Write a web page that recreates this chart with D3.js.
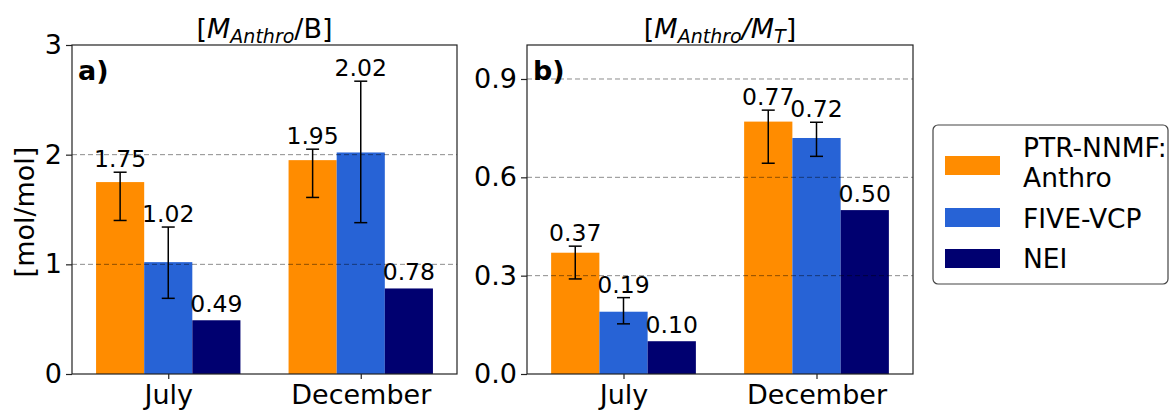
<!DOCTYPE html>
<html>
<head>
<meta charset="utf-8">
<script src="https://cdn.jsdelivr.net/npm/d3@7"></script>
<style>
  html, body { margin: 0; padding: 0; background: #fff; }
  svg { display: block; font-family: "DejaVu Sans", sans-serif; }
</style>
</head>
<body>
<svg id="chart" width="1170" height="412"></svg>
<script>
// ---- data ----
const categories = ["July", "December"];
const seriesNames = ["PTR-NNMF:\nAnthro", "FIVE-VCP", "NEI"];
const seriesColors = ["#FF8C00", "#2763D6", "#000070"];

// panel a: [M_Anthro/B]
const aPTR  = [1.75, 1.95];
const aFIVE = [1.02, 2.02];
const aNEI  = [0.49, 0.78];
const aPTRerr  = [[1.40, 1.84], [1.61, 2.05]];
const aFIVEerr = [[0.69, 1.34], [1.38, 2.67]];
const aTicks = [0, 1, 2, 3];
const aTickLabels = ["0", "1", "2", "3"];

// panel b: [M_Anthro/M_T]
const bPTR  = [0.37, 0.77];
const bFIVE = [0.19, 0.72];
const bNEI  = [0.10, 0.50];
const bPTRerr  = [[0.29, 0.39], [0.643, 0.805]];
const bFIVEerr = [[0.153, 0.233], [0.664, 0.768]];
const bTicks = [0.0, 0.3, 0.6, 0.9];
const bTickLabels = ["0.0", "0.3", "0.6", "0.9"];

const FS = 27;      // axis / title font size
const VFS = 23.5;   // value label font size
const SFS = 19;     // subscript font size

const svg = d3.select("#chart");

function panel(opts) {
  const { left, right, top, bottom, ymax, values, errs, valueLabels, ticks, tickLabels, letter, titleParts } = opts;
  const g = svg.append("g");
  const x = d3.scaleLinear().domain([-0.5, 1.5]).range([left, right]);
  const y = d3.scaleLinear().domain([0, ymax]).range([bottom, top]);
  const bw = 0.25;

  // bars
  values.forEach((vals, j) => {
    g.selectAll(null).data(vals).enter().append("rect")
      .attr("x", (d, i) => x(i + (j - 1) * bw - bw / 2))
      .attr("width", x(bw) - x(0))
      .attr("y", d => y(d))
      .attr("height", d => y(0) - y(d))
      .attr("fill", seriesColors[j]);
  });

  // grid (on top of bars)
  g.selectAll(null).data(ticks.filter(t => t > 0 && y(t) > top + 1)).enter().append("line")
    .attr("x1", left).attr("x2", right)
    .attr("y1", d => y(d)).attr("y2", d => y(d))
    .attr("stroke", "#000").attr("stroke-opacity", 0.45)
    .attr("stroke-width", 1).attr("stroke-dasharray", "5,3");

  // error bars
  errs.forEach((e, j) => {
    if (!e) return;
    e.forEach((lohi, i) => {
      const cx = x(i + (j - 1) * bw);
      const eg = g.append("g").attr("stroke", "#000").attr("stroke-width", 1.5);
      eg.append("line").attr("x1", cx).attr("x2", cx).attr("y1", y(lohi[0])).attr("y2", y(lohi[1]));
      eg.append("line").attr("x1", cx - 6.5).attr("x2", cx + 6.5).attr("y1", y(lohi[0])).attr("y2", y(lohi[0]));
      eg.append("line").attr("x1", cx - 6.5).attr("x2", cx + 6.5).attr("y1", y(lohi[1])).attr("y2", y(lohi[1]));
    });
  });

  // value labels
  values.forEach((vals, j) => {
    vals.forEach((v, i) => {
      const cx = x(i + (j - 1) * bw);
      const e = errs[j] ? errs[j][i] : null;
      const yb = e ? y(e[1]) - 5 : y(v) - 8;
      g.append("text").attr("x", cx).attr("y", yb)
        .attr("text-anchor", "middle").attr("font-size", VFS).attr("fill", "#000")
        .text(valueLabels[j][i]);
    });
  });

  // axes
  const yAxis = d3.axisLeft(y).tickValues(ticks).tickFormat((d, i) => tickLabels[i]).tickSize(6).tickPadding(4);
  const ya = g.append("g").attr("transform", `translate(${left},0)`).call(yAxis);
  ya.select(".domain").remove();
  ya.selectAll("text").attr("font-size", FS).attr("font-family", "DejaVu Sans").attr("fill", "#000");
  ya.selectAll("line").attr("stroke", "#222").attr("stroke-width", 1.2);

  const xAxis = d3.axisBottom(x).tickValues([0, 1]).tickFormat((d, i) => categories[i]).tickSize(5).tickPadding(6);
  const xa = g.append("g").attr("transform", `translate(0,${bottom})`).call(xAxis);
  xa.select(".domain").remove();
  xa.selectAll("text").attr("font-size", FS).attr("font-family", "DejaVu Sans").attr("fill", "#000");
  xa.selectAll("line").attr("stroke", "#222").attr("stroke-width", 1.2);

  // frame
  g.append("rect").attr("x", left).attr("y", top).attr("width", right - left).attr("height", bottom - top)
    .attr("fill", "none").attr("stroke", "#222").attr("stroke-width", 1.2);

  // panel letter
  g.append("text").attr("x", left + 6).attr("y", top + 35)
    .attr("font-size", 27).attr("font-weight", "bold").text(letter);

  // title
  const t = g.append("text").attr("x", (left + right) / 2).attr("y", 38)
    .attr("text-anchor", "middle").attr("font-size", FS);
  titleParts.forEach(p => {
    const ts = t.append("tspan").text(p.t).attr("font-size", p.sub ? SFS : FS);
    if (p.it) ts.attr("font-style", "italic");
    if (p.dy) ts.attr("dy", p.dy);
  });
}

panel({
  left: 72, right: 457, top: 45, bottom: 374, ymax: 3,
  values: [aPTR, aFIVE, aNEI], errs: [aPTRerr, aFIVEerr, null],
  valueLabels: [aPTR.map(d => d.toFixed(2)), aFIVE.map(d => d.toFixed(2)), aNEI.map(d => d.toFixed(2))],
  ticks: aTicks, tickLabels: aTickLabels, letter: "a)",
  titleParts: [{t: "["}, {t: "M", it: true}, {t: "Anthro", it: true, sub: true, dy: 5}, {t: "/B]", dy: -5}]
});
panel({
  left: 527, right: 913, top: 45, bottom: 374, ymax: 1.0037,
  values: [bPTR, bFIVE, bNEI], errs: [bPTRerr, bFIVEerr, null],
  valueLabels: [bPTR.map(d => d.toFixed(2)), bFIVE.map(d => d.toFixed(2)), bNEI.map(d => d.toFixed(2))],
  ticks: bTicks, tickLabels: bTickLabels, letter: "b)",
  titleParts: [{t: "["}, {t: "M", it: true}, {t: "Anthro", it: true, sub: true, dy: 5}, {t: "/", it: true, dy: -5}, {t: "M", it: true}, {t: "T", it: true, sub: true, dy: 5}, {t: "]", dy: -5}]
});

// y label
svg.append("text").attr("transform", "translate(34,212) rotate(-90)")
  .attr("text-anchor", "middle").attr("font-size", FS).text("[mol/mol]");

// legend
const lg = svg.append("g");
lg.append("rect").attr("x", 933).attr("y", 125).attr("width", 235).attr("height", 159)
  .attr("rx", 5).attr("fill", "#fff").attr("stroke", "#444").attr("stroke-width", 1.2);
const legendRows = [
  { patchY: 156, lines: [157, 187] },
  { patchY: 208, lines: [228] },
  { patchY: 249, lines: [268] }
];
seriesNames.forEach((name, i) => {
  const r = legendRows[i];
  lg.append("rect").attr("x", 945).attr("y", r.patchY).attr("width", 55).attr("height", 19)
    .attr("fill", seriesColors[i]);
  name.split("\n").forEach((ln, k) => {
    lg.append("text").attr("x", 1023).attr("y", r.lines[k]).attr("font-size", 26.5).text(ln);
  });
});
</script>
</body>
</html>
